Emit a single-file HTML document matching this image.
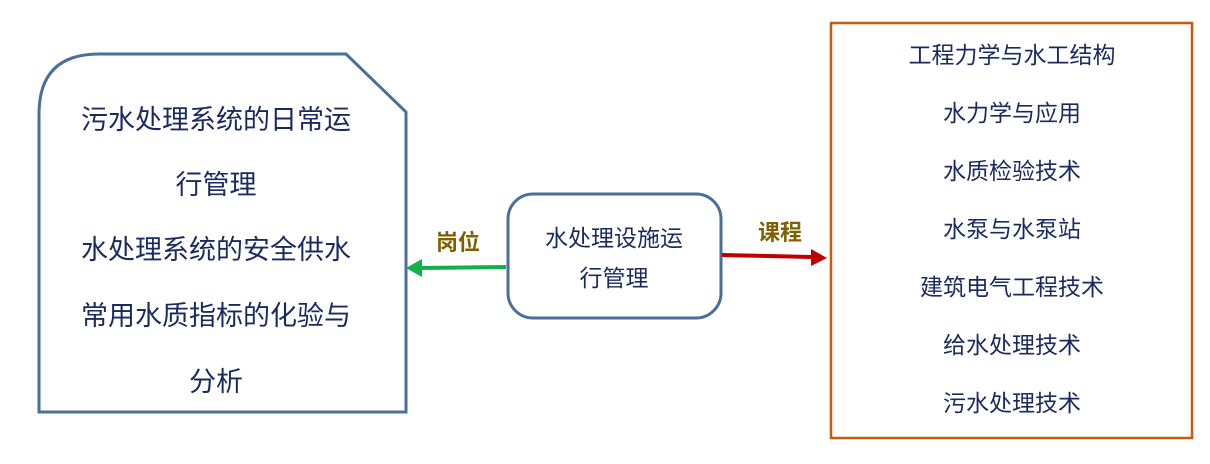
<!DOCTYPE html>
<html><head><meta charset="utf-8"><style>
body{margin:0;width:1210px;height:459px;background:#fff;overflow:hidden}
svg text{font-family:"Liberation Sans","Noto Sans CJK SC",sans-serif;fill:#1a2a5e}
</style></head><body>
<svg width="1210" height="459" xmlns="http://www.w3.org/2000/svg">
<path d="M39,412 L39,114 Q39,54 99,54 L346,54 L406,112 L406,412 Z" fill="#fff" stroke="#4a6f9a" stroke-width="3"/>
<g font-size="27" text-anchor="middle">
<text x="216" y="129">污水处理系统的日常运</text>
<text x="216" y="194">行管理</text>
<text x="216" y="259">水处理系统的安全供水</text>
<text x="216" y="325">常用水质指标的化验与</text>
<text x="216" y="391">分析</text>
</g>
<rect x="508" y="194" width="213" height="124" rx="25" fill="#fff" stroke="#4a6f9a" stroke-width="3"/>
<g font-size="23" text-anchor="middle">
<text x="614" y="246">水处理设施运</text>
<text x="614" y="286">行管理</text>
</g>
<line x1="506" y1="267" x2="420" y2="268" stroke="#12b04a" stroke-width="4"/>
<polygon points="406,268 422,259 422,277" fill="#12b04a"/>
<line x1="722" y1="255" x2="812" y2="257" stroke="#c00000" stroke-width="4"/>
<polygon points="827,258 811,249 811,266" fill="#c00000"/>
<text x="458" y="250" font-size="22" font-weight="bold" text-anchor="middle" style="fill:#7f6000">岗位</text>
<text x="780" y="240" font-size="22" font-weight="bold" text-anchor="middle" style="fill:#7f6000">课程</text>
<rect x="831" y="23" width="361" height="415" fill="#fff" stroke="#c55a11" stroke-width="2.5"/>
<g font-size="23" text-anchor="middle">
<text x="1012" y="63">工程力学与水工结构</text>
<text x="1012" y="121">水力学与应用</text>
<text x="1012" y="179">水质检验技术</text>
<text x="1012" y="237">水泵与水泵站</text>
<text x="1012" y="295">建筑电气工程技术</text>
<text x="1012" y="353">给水处理技术</text>
<text x="1012" y="411">污水处理技术</text>
</g>
</svg>
</body></html>
